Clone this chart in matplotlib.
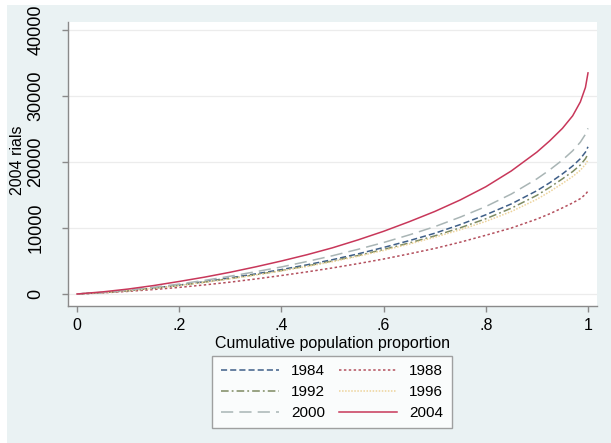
import numpy as np
import matplotlib
matplotlib.use('Agg')
import matplotlib.pyplot as plt
from matplotlib.patches import Rectangle

plt.rcParams['font.family'] = ['Liberation Sans', 'DejaVu Sans']

# cumulative population proportion
p = [0, .05, .1, .15, .2, .25, .3, .35, .4, .45, .5, .55, .6, .65, .7, .75, .8, .85, .9,
     .925, .95, .97, .985, .995, 1]

# generalized Lorenz ordinates, 2004 rials
gl_1984 = [0, 220, 520, 900, 1350, 1870, 2450, 3050, 3700, 4420, 5200, 6080, 7050, 8080,
           9200, 10520, 12000, 13650, 15650, 16850, 18200, 19400, 20500, 21500, 22300]
gl_1988 = [0, 170, 400, 680, 1000, 1380, 1800, 2280, 2800, 3350, 3950, 4600, 5300, 6080,
           6900, 7850, 8900, 10000, 11350, 12150, 13050, 13800, 14450, 15100, 15600]
gl_1992 = [0, 210, 500, 870, 1300, 1800, 2350, 2930, 3550, 4250, 5000, 5830, 6750, 7730,
           8800, 10030, 11400, 13000, 14950, 16150, 17450, 18550, 19550, 20500, 21200]
gl_1996 = [0, 210, 500, 860, 1280, 1770, 2300, 2880, 3500, 4170, 4900, 5720, 6600, 7560,
           8600, 9740, 11000, 12500, 14350, 15500, 16750, 17800, 18750, 19650, 20300]
gl_2000 = [0, 250, 600, 1020, 1500, 2070, 2700, 3380, 4100, 4920, 5800, 6770, 7800, 8950,
           10200, 11650, 13250, 15150, 17450, 18800, 20300, 21700, 23000, 24200, 25100]
gl_2004 = [0, 320, 750, 1280, 1900, 2560, 3300, 4120, 5000, 5950, 7000, 8200, 9500, 10950,
           12500, 14250, 16250, 18650, 21500, 23200, 25100, 27000, 29100, 31300, 33500]

years = ['1984', '1988', '1992', '1996', '2000', '2004']
series = [gl_1984, gl_1988, gl_1992, gl_1996, gl_2000, gl_2004]
colors = ['#3f5f88', '#b4505e', '#7d8a62', '#edd39a', '#a9b5b5', '#c8375a']
dashes = [(4, 2), (1.6, 1.6), (5, 2, 1.2, 2), (1, 1), (8, 4), None]

xticks = [0, .2, .4, .6, .8, 1]
xlabels = ['0', '.2', '.4', '.6', '.8', '1']
yticks = [0, 10000, 20000, 30000, 40000]

fig = plt.figure(figsize=(6.11, 4.43), dpi=100)
fig.patch.set_facecolor('white')
fig.patches.append(Rectangle((7/611, 0), 1, 438/443, transform=fig.transFigure,
                             facecolor='#eaf2f3', edgecolor='none', zorder=-10))

ax = fig.add_axes([68/611, 1-306/443, (597-68)/611, (306-22)/443])
ax.set_facecolor('white')

lines = {}
for yr, vals, c, d in zip(years, series, colors, dashes):
    ln, = ax.plot(p, vals, color=c, lw=1.1, label=yr)
    if d is not None:
        ln.set_dashes(d)
    lines[yr] = ln

ax.set_xlim(-9/511, 1+9/511)
ax.set_ylim(-12/66*10000, 272/66*10000)
ax.set_xticks(xticks)
ax.set_xticklabels(xlabels)
ax.set_yticks(yticks)
ax.set_yticklabels([str(v) for v in yticks], rotation=90, va='center', fontsize=13)
ax.grid(axis='y', color='#ececec', lw=0.9)
ax.set_axisbelow(True)

for s in ['top', 'right']:
    ax.spines[s].set_visible(False)
for s in ['left', 'bottom']:
    ax.spines[s].set_color('#8a8a8a')
    ax.spines[s].set_linewidth(1.0)
ax.tick_params(axis='both', colors='#8a8a8a', labelcolor='black', length=4, width=1.0)
ax.tick_params(axis='x', pad=5, labelsize=11.5)
ax.tick_params(axis='y', pad=13)

ax.set_xlabel('Cumulative population proportion', fontsize=11.5, labelpad=2)
ax.set_ylabel('2004 rials', fontsize=11.5, va='center')
ax.yaxis.set_label_coords(-50/529, (306-160)/284)

order = ['1984', '1992', '2000', '1988', '1996', '2004']
leg = fig.legend([lines[y] for y in order], order, ncol=2, loc='center',
                 bbox_to_anchor=(332/611, 1-392/443), fontsize=11,
                 handlelength=3.8, handletextpad=0.8, columnspacing=0.9,
                 labelspacing=0.45, frameon=True, fancybox=False,
                 borderpad=0.55)
leg.get_frame().set_edgecolor('#8a8a8a')
leg.get_frame().set_linewidth(1.0)

fig.savefig('out.png', dpi=100)
